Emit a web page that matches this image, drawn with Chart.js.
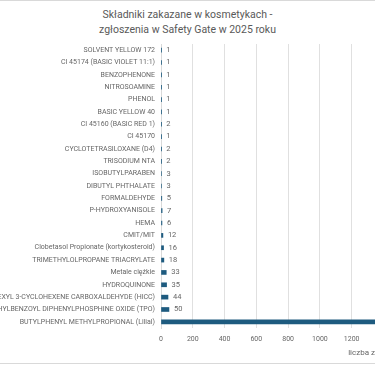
<!DOCTYPE html>
<html>
<head>
<meta charset="utf-8">
<script src="https://cdn.jsdelivr.net/npm/chart.js@4.4.1/dist/chart.umd.min.js"></script>
<style>
    body { margin: 0; width: 375px; height: 366px; overflow: hidden; background: #fff; position: relative; }
    .frame { position: absolute; left: -5px; width: 400px; top: 0; height: 362px; border-top: 1px solid #d9d9d9; border-bottom: 1px solid #d9d9d9; }
    .title { position: absolute; top: 7px; left: 0; width: 375px; text-align: center; color: #595959; font-family: Roboto, sans-serif; font-size: 10.5px; line-height: 15px; }
    .wrap { position: absolute; top: 0; left: -79px; width: 684px; height: 366px; }
</style>
</head>
<body>
<div class="frame"></div>
<div class="title">Składniki zakazane w kosmetykach -<br>zgłoszenia w Safety Gate w 2025 roku</div>
<div class="wrap"><canvas id="myChart"></canvas></div>
<script>
const categories = [
    'SOLVENT YELLOW 172',
    'CI 45174 (BASIC VIOLET 11:1)',
    'BENZOPHENONE',
    'NITROSOAMINE',
    'PHENOL',
    'BASIC YELLOW 40',
    'CI 45160 (BASIC RED 1)',
    'CI 45170',
    'CYCLOTETRASILOXANE (D4)',
    'TRISODIUM NTA',
    'ISOBUTYLPARABEN',
    'DIBUTYL PHTHALATE',
    'FORMALDEHYDE',
    'P-HYDROXYANISOLE',
    'HEMA',
    'CMIT/MIT',
    'Clobetasol Propionate (kortykosteroid)',
    'TRIMETHYLOLPROPANE TRIACRYLATE',
    'Metale ciężkie',
    'HYDROQUINONE',
    'HYDROXYISOHEXYL 3-CYCLOHEXENE CARBOXALDEHYDE (HICC)',
    'TRIMETHYLBENZOYL DIPHENYLPHOSPHINE OXIDE (TPO)',
    'BUTYLPHENYL METHYLPROPIONAL (Lilial)'
];
const values = [1, 1, 1, 1, 1, 1, 2, 1, 2, 2, 3, 3, 5, 7, 6, 12, 16, 18, 33, 35, 44, 50, 2540];
const axisTitle = 'liczba zgłoszeń';

const gray = '#666666';
const fontFamily = 'Roboto';

// numbers next to the end of each bar
const valueLabels = {
    id: 'valueLabels',
    afterDatasetsDraw(chart) {
        const ctx = chart.ctx;
        const meta = chart.getDatasetMeta(0);
        ctx.save();
        ctx.font = '7.5px ' + fontFamily;
        ctx.fillStyle = gray;
        ctx.textBaseline = 'middle';
        meta.data.forEach((bar, i) => {
            ctx.fillText(values[i], bar.x + 5, bar.y);
        });
        ctx.restore();
    }
};

const ctx = document.getElementById('myChart');
new Chart(ctx, {
    type: 'bar',
    data: {
        labels: categories,
        datasets: [
            {
                data: values,
                backgroundColor: '#1e5b7f',
                barThickness: 4,
                borderSkipped: false
            }
        ]
    },
    plugins: [valueLabels],
    options: {
        indexAxis: 'y',
        responsive: true,
        maintainAspectRatio: false,
        animation: false,
        layout: {
            padding: { top: 44, right: 15, left: 0, bottom: 0 }
        },
        plugins: {
            legend: { display: false },
            tooltip: { enabled: false }
        },
        scales: {
            x: {
                min: 0,
                max: 2700,
                ticks: {
                    stepSize: 200,
                    color: gray,
                    font: { family: fontFamily, size: 7 },
                    padding: 7,
                    callback: (v) => String(v)
                },
                grid: { color: '#e0e0e0', drawTicks: false },
                border: { display: false },
                title: {
                    display: true,
                    text: axisTitle,
                    color: gray,
                    font: { family: fontFamily, size: 8 },
                    padding: { top: 4, bottom: 8 }
                },
                afterFit(scale) { scale.height = 38; }
            },
            y: {
                ticks: { color: gray, font: { family: fontFamily, size: 7 }, padding: 6, autoSkip: false },
                grid: { display: false, drawTicks: false },
                border: { display: true, color: '#d9d9d9' },
                afterFit(scale) { scale.width = 240; }
            }
        }
    }
});
</script>
</body>
</html>
